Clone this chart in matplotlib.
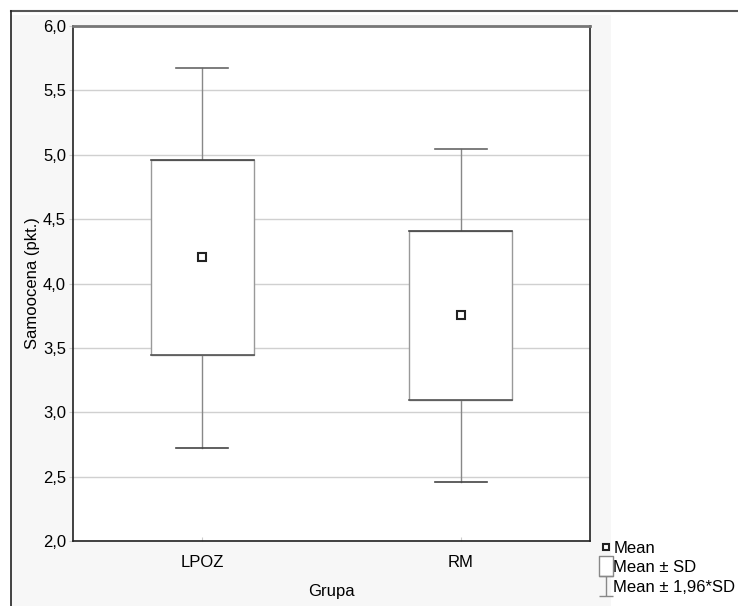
import matplotlib.pyplot as plt
from matplotlib.patches import Rectangle
from matplotlib.lines import Line2D
from matplotlib.path import Path
import numpy as np

plt.rcParams['font.family'] = ['Liberation Sans', 'DejaVu Sans']

# data
groups = ["LPOZ", "RM"]
means = [4.205, 3.752]
sd_low = [3.445, 3.095]
sd_high = [4.960, 4.408]
ci_low = [2.722, 2.458]
ci_high = [5.674, 5.045]

yticks = [2.0, 2.5, 3.0, 3.5, 4.0, 4.5, 5.0, 5.5, 6.0]

fig = plt.figure(figsize=(7.38, 6.06), dpi=100)
W, H = 738, 606

# light grey backdrop behind plot + legend area
fig.patches.append(Rectangle((11/W, 0), (611-11)/W, (H-15)/H, transform=fig.transFigure,
                             facecolor='#f7f7f7', edgecolor='none', zorder=-10))
# outer frame lines
fig.lines.append(Line2D([11/W, 1], [1-11/H, 1-11/H], transform=fig.transFigure, color='#555555', lw=1.5))
fig.lines.append(Line2D([11/W, 11/W], [0, 1-11/H], transform=fig.transFigure, color='#222222', lw=1.2))

ax = fig.add_axes([73/W, 1-541/H, (590-73)/W, (541-26)/H])
ax.set_facecolor('white')
ax.set_xlim(-0.5, 1.5)
ax.set_ylim(2, 6)

x = np.arange(len(groups))
bw = 0.4
cw = 0.2
for i in range(len(groups)):
    # whiskers
    ax.plot([x[i], x[i]], [sd_high[i], ci_high[i]], color='#888888', lw=1, zorder=2)
    ax.plot([x[i], x[i]], [ci_low[i], sd_low[i]], color='#888888', lw=1, zorder=2)
    ax.plot([x[i]-cw/2, x[i]+cw/2], [ci_high[i], ci_high[i]], color='#666666', lw=1.2, zorder=2)
    ax.plot([x[i]-cw/2, x[i]+cw/2], [ci_low[i], ci_low[i]], color='#444444', lw=1.2, zorder=2)
    # box
    ax.add_patch(Rectangle((x[i]-bw/2, sd_low[i]), bw, sd_high[i]-sd_low[i],
                           facecolor='white', edgecolor='#999999', lw=1, zorder=3))
    ax.plot([x[i]-bw/2, x[i]+bw/2], [sd_high[i], sd_high[i]], color='#444444', lw=1.2, zorder=4)
    ax.plot([x[i]-bw/2, x[i]+bw/2], [sd_low[i], sd_low[i]], color='#555555', lw=1.2, zorder=4)
    # mean
    ax.plot(x[i], means[i], marker='s', ms=6, mfc='white', mec='#222222', mew=1.5, zorder=5)

ax.set_yticks(yticks)
ax.set_yticklabels([f"{v:.1f}".replace('.', ',') for v in yticks], fontsize=12)
ax.set_xticks(x)
ax.set_xticklabels(groups, fontsize=12)
ax.grid(axis='y', color='#d0d0d0', lw=1)
ax.set_axisbelow(True)
ax.tick_params(axis='both', length=3, color='#cccccc', pad=2)
ax.tick_params(axis='x', direction='in', pad=10)
for s in ax.spines.values():
    s.set_color('#222222')
    s.set_linewidth(1.2)
ax.spines['top'].set_color('#777777')
ax.spines['top'].set_linewidth(2)

ax.set_ylabel("Samoocena (pkt.)", fontsize=12, labelpad=2)
ax.set_xlabel("Grupa", fontsize=12, labelpad=10)

# legend
ibeam = Path([(-0.33, 0.5), (0.33, 0.5), (0, 0.5), (0, -0.5), (-0.33, -0.5), (0.33, -0.5)],
             [Path.MOVETO, Path.LINETO, Path.MOVETO, Path.LINETO, Path.MOVETO, Path.LINETO])
tallbox = Path([(-0.33, -0.5), (0.33, -0.5), (0.33, 0.5), (-0.33, 0.5), (-0.33, -0.5)],
               [Path.MOVETO, Path.LINETO, Path.LINETO, Path.LINETO, Path.CLOSEPOLY])
handles = [
    Line2D([], [], ls='none', marker='s', ms=5, mfc='white', mec='#222222', mew=1.5),
    Line2D([], [], ls='none', marker=tallbox, ms=15, mfc='white', mec='#888888', mew=1),
    Line2D([], [], ls='none', marker=ibeam, ms=15, mfc='none', mec='#888888', mew=1),
]
fig.legend(handles, ["Mean", "Mean \u00b1 SD", "Mean \u00b1 1,96*SD"], loc='upper left',
           bbox_to_anchor=(588/W, 1-529/H), frameon=False, fontsize=12,
           handlelength=0.7, handletextpad=0.12, labelspacing=0.28, borderpad=0.2)

fig.savefig("out.png", dpi=100, facecolor='white')
